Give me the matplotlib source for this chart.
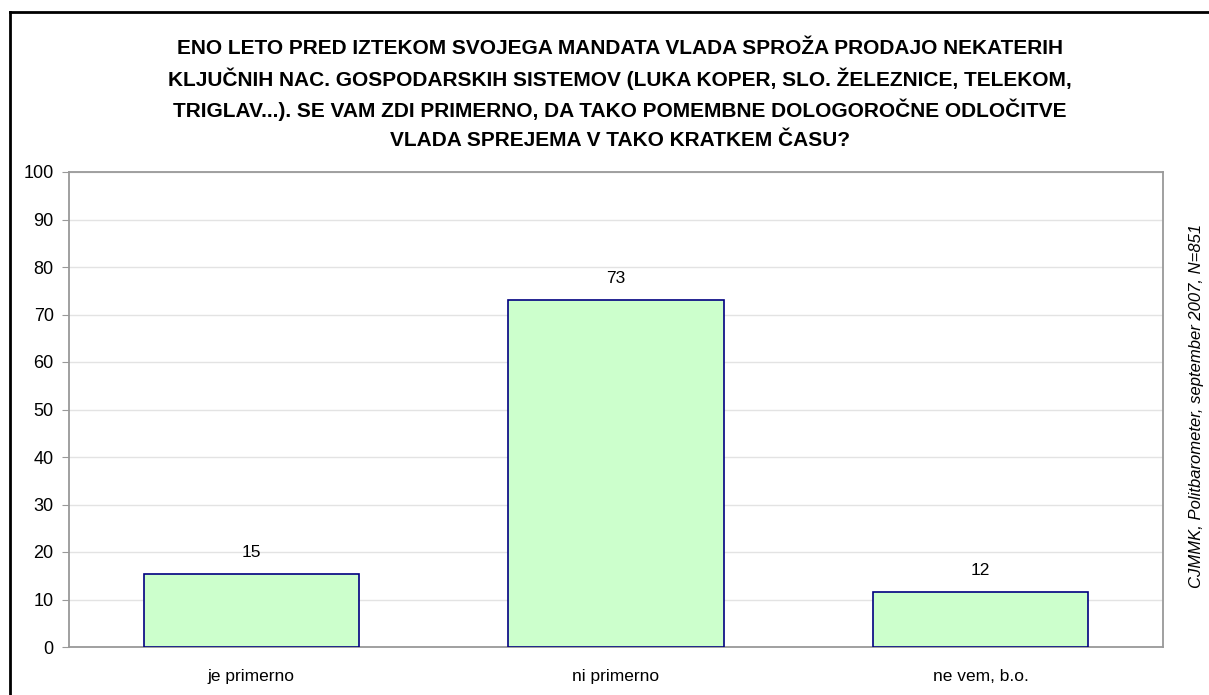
import matplotlib
matplotlib.use('Agg')
import matplotlib.pyplot as plt

# ===================== DATA =====================
categories = ["je primerno", "ni primerno", "ne vem, b.o."]
values = [15.3, 73.0, 11.6]
value_labels = ["15", "73", "12"]

title_lines = [
    "ENO LETO PRED IZTEKOM SVOJEGA MANDATA VLADA SPROŽA PRODAJO NEKATERIH",
    "KLJUČNIH NAC. GOSPODARSKIH SISTEMOV (LUKA KOPER, SLO. ŽELEZNICE, TELEKOM,",
    "TRIGLAV...). SE VAM ZDI PRIMERNO, DA TAKO POMEMBNE DOLOGOROČNE ODLOČITVE",
    "VLADA SPREJEMA V TAKO KRATKEM ČASU?",
]
source = "CJMMK, Politbarometer, september 2007, N=851"

plt.rcParams['font.family'] = ['Liberation Sans', 'DejaVu Sans']

fig = plt.figure(figsize=(12.09, 6.95), dpi=100)
W, H = 1209, 695

# outer frame (open on right and bottom, like the cropped original)
fig.add_artist(plt.Line2D([10 / W, 1], [1 - 12 / H, 1 - 12 / H], color='black', lw=2, transform=fig.transFigure))
fig.add_artist(plt.Line2D([10 / W, 10 / W], [0, 1 - 12 / H], color='black', lw=2, transform=fig.transFigure))

ax = fig.add_axes([69 / W, 48 / H, (1163 - 69) / W, (647 - 172) / H])

x = range(len(categories))
ax.bar(x, values, width=0.59, color='#CCFFCC', edgecolor='#000080', linewidth=1.2, zorder=3)

for i, (v, lab) in enumerate(zip(values, value_labels)):
    ax.text(i, v + 3.0, lab, ha='center', va='bottom', fontsize=12.5)

ax.set_xlim(-0.5, 2.5)
ax.set_ylim(0, 100)
ax.set_yticks(range(0, 101, 10))
ax.set_xticks(list(x))
ax.set_xticklabels(categories, fontsize=12.5)
ax.tick_params(axis='y', labelsize=13, length=5, color='#999999', direction='out', pad=6)
ax.tick_params(axis='x', length=0, pad=16)
ax.grid(axis='y', color='#E3E3E3', linewidth=1, zorder=0)
for s in ax.spines.values():
    s.set_color('#999999')
    s.set_linewidth(1.3)

for k, line in enumerate(title_lines):
    fig.text(620 / W, 1 - (48 + 31 * k) / H, line, ha='center', va='center',
             fontsize=15, fontweight='bold')

fig.text(1197 / W, 1 - 406 / H, source, rotation=90, ha='center', va='center',
         fontsize=12, style='italic')

plt.savefig("out.png", dpi=100)
plt.close()
